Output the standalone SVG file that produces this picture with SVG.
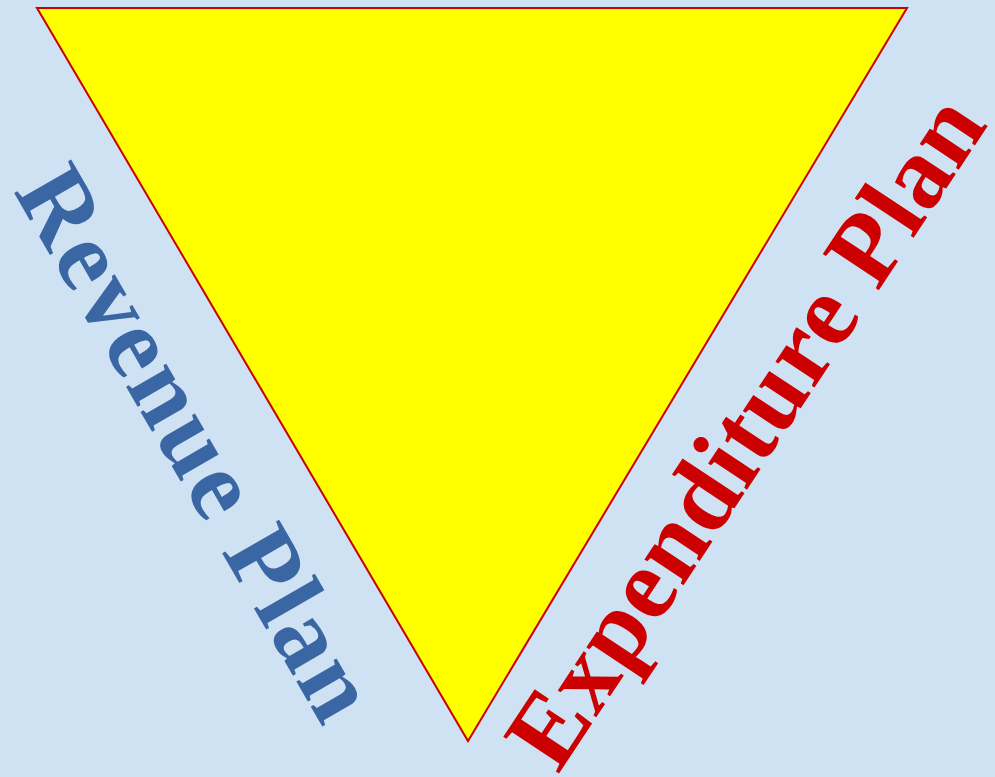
<svg xmlns="http://www.w3.org/2000/svg" width="995" height="777" viewBox="0 0 995 777">
<style>
.lbl{font-family:"Liberation Serif","Times New Roman",serif;font-weight:bold}
</style>
<rect width="995" height="777" fill="#CFE2F3"/>
<g id="triangle">
<polygon points="37,8 907,8 468,741" fill="#FFFF00" stroke="#CC0000" stroke-width="2"/>
</g>
<g id="revenue">
<text class="lbl" font-size="101" fill="#3A67A4" transform="translate(13,191) rotate(60)" textLength="620" lengthAdjust="spacing">Revenue Plan</text>
</g>
<g id="expenditure">
<text class="lbl" font-size="102" fill="#CC0000" transform="translate(558,775) rotate(-56.5)" textLength="780" lengthAdjust="spacing">Expenditure Plan</text>
</g>
</svg>
